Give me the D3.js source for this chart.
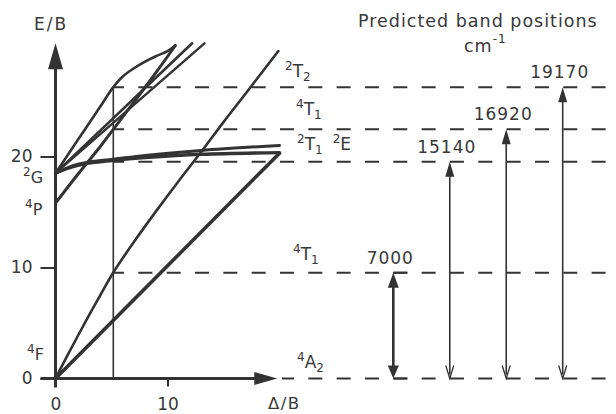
<!DOCTYPE html>
<html><head><meta charset="utf-8">
<script src="https://cdn.jsdelivr.net/npm/d3@7/dist/d3.min.js"></script>
<style>
body{margin:0;background:#fff}
text{font-family:"DejaVu Sans",sans-serif;fill:#383838}
</style>
</head><body>
<svg id="c" width="616" height="414"></svg>
<script>
// ---------- data (Δ/B , E/B) ----------
const xTickValues = [0, 10];
const yTickValues = [0, 10, 20];
const deltaFit = 5.16;                         // Δ/B of the vertical line
const curve4T2  = [[0,0],[20,20.3]];
const curve4T1F = [[0,0],[1,1.95],[2,3.85],[3,5.7],[4,7.5],[5.16,9.55],[7,12.3],[9,15.1],[11,17.8],[13,20.4],[15,23.1],[17,25.7],[19.9,29.5]];
const curve4T1P = [[0,15.8],[2,18.4],[4,20.9],[5.16,22.45],[7,24.9],[9,27.6],[10.7,30.0]];
const curve2T2a = [[0,18.5],[12.2,30.2]];
const curve2T2b = [[0,18.5],[13.3,30.2]];
const curve2A1  = [[0,18.5],[2,21.5],[4,24.5],[5.16,26.25],[6,27.2],[7,27.95],[8,28.55],[9,29.05],[10,29.5],[10.7,30.0]];
const curve2E   = [[0,18.5],[1,18.9],[2,19.2],[3,19.4],[5.16,19.65],[8,19.9],[13,20.2],[20,20.35]];
const curve2T1  = [[0,18.5],[1,18.95],[2,19.3],[3,19.5],[5.16,19.75],[8,20.1],[13,20.55],[20,21.0]];
const groundLevel = 0;
const bandLevels = [9.53, 19.53, 22.45, 26.23];          // E/B of the dashed levels
const bandValues = [7000, 15140, 16920, 19170];           // cm-1
const stateLabels = [                                     // [sup, main, sub, level]
  ["2","T","2",26.23],["4","T","1",22.45],["2","T","1",19.53],["4","T","1",9.53],["4","A","2",0]
];
const termLabels = [["2","G",18.5],["4","P",15.8],["4","F",0]];

// ---------- scales ----------
const svg = d3.select("#c");
const x = d3.scaleLinear().domain([0,10]).range([55.5,167.5]);
const y = d3.scaleLinear().domain([0,10]).range([378.5,267.5]);
const xBand = d3.scalePoint().domain(bandValues).range([393.3,562.7]);
const ink = "#333";

function head(g, tx, ty, dir, L, W, filled){ // dir: 'up','down','right'
  let p;
  if(dir==="up")    p=[[tx,ty],[tx-W,ty+L],[tx+W,ty+L]];
  if(dir==="down")  p=[[tx,ty],[tx-W,ty-L],[tx+W,ty-L]];
  if(dir==="right") p=[[tx,ty],[tx-L,ty-W],[tx-L,ty+W]];
  if(filled) g.append("path").attr("d","M"+p.join("L")+"Z").attr("fill",ink);
  else g.append("path").attr("d","M"+p[1]+"L"+p[0]+"L"+p[2]).attr("fill","none").attr("stroke",ink).attr("stroke-width",1.3);
}

// ---------- dashed levels ----------
const P = 28.33, phase = 393.3;
function dashed(x0, lev){
  const off = (((x0 - phase) % P) + P) % P;
  svg.append("line").attr("x1",x0).attr("x2",616).attr("y1",y(lev)).attr("y2",y(lev))
    .attr("stroke",ink).attr("stroke-width",2).attr("stroke-dasharray","14,14.33")
    .attr("stroke-dashoffset",off);
}
bandLevels.forEach(l=>dashed(x(deltaFit), l));
dashed(282, groundLevel);

// ---------- vertical line ----------
svg.append("line").attr("x1",x(deltaFit)).attr("x2",x(deltaFit))
  .attr("y1",y(0)).attr("y2",y(bandLevels[3])).attr("stroke",ink).attr("stroke-width",1.6);

// ---------- curves ----------
const line = d3.line().x(d=>x(d[0])).y(d=>y(d[1])).curve(d3.curveCatmullRom.alpha(0.5));
[[curve4T2,3.6],[curve4T1F,2.6],[curve4T1P,3],[curve2T2a,2.6],[curve2T2b,2.4],[curve2A1,2.6],[curve2E,3.4],[curve2T1,3]]
 .forEach(([c,w])=>svg.append("path").attr("d",line(c)).attr("fill","none").attr("stroke",ink)
   .attr("stroke-width",w).attr("stroke-linecap","round"));

// ---------- axes ----------
const ax = svg.append("g");
const yTop = 30.2, xEnd = 19.8;
ax.append("line").attr("x1",x(0)).attr("x2",x(0)).attr("y1",y(0)+9).attr("y2",y(yTop)+20)
  .attr("stroke",ink).attr("stroke-width",3);
head(ax, x(0), y(yTop), "up", 26, 7.5, true);
ax.append("line").attr("x1",x(0)-15).attr("x2",x(xEnd)-18).attr("y1",y(0)).attr("y2",y(0))
  .attr("stroke",ink).attr("stroke-width",3);
head(ax, x(xEnd), y(0), "right", 23, 6.5, true);

const gy = svg.append("g").attr("transform",`translate(${x(0)},0)`)
  .call(d3.axisLeft(y).tickValues(yTickValues).tickSize(15).tickPadding(8));
gy.select(".domain").remove();
gy.selectAll(".tick line").attr("stroke",ink).attr("stroke-width",2);
gy.selectAll(".tick text").attr("font-size",17).attr("fill","#383838").attr("font-family","DejaVu Sans");
const gx = svg.append("g").attr("transform",`translate(0,${y(0)})`)
  .call(d3.axisBottom(x).tickValues(xTickValues).tickSize(8).tickPadding(11));
gx.select(".domain").remove();
gx.selectAll(".tick line").attr("stroke",ink).attr("stroke-width",2);
gx.selectAll(".tick text").attr("font-size",17).attr("fill","#383838").attr("font-family","DejaVu Sans");

svg.append("text").attr("x",34).attr("y",30).attr("font-size",17).attr("letter-spacing",2).text("E/B");
svg.append("text").attr("x",268).attr("y",409).attr("font-size",16.5).attr("letter-spacing",1.5).text("Δ/B");

// ---------- term labels (left) ----------
function term(t, xx, base){
  const tx = svg.append("text").attr("x",xx).attr("y",base).attr("font-size",16);
  tx.append("tspan").attr("font-size",12).attr("dy",-7).text(t[0]);
  tx.append("tspan").attr("dy",7).text(t[1]);
}
const termX=[23,25,27];
termLabels.forEach((t,i)=>term(t, termX[i], [183,215,360][i]));

// ---------- state labels (right) ----------
const stX=[285,296,297,293,297], stUp=[10,14,12,13,11];
stateLabels.forEach((s,i)=>{
  const tx = svg.append("text").attr("x",stX[i]).attr("y",y(s[3])-stUp[i]).attr("font-size",17);
  tx.append("tspan").attr("font-size",12).attr("dy",-7).text(s[0]);
  tx.append("tspan").attr("dy",7).text(s[1]);
  tx.append("tspan").attr("font-size",12).attr("dy",4).text(s[2]);
  if(i===2){
    tx.append("tspan").attr("font-size",12).attr("dy",-11).attr("dx",10).text("2");
    tx.append("tspan").attr("dy",7).text("E");
  }
});

// ---------- band arrows ----------
bandValues.forEach((v,i)=>{
  const xx = xBand(v), yt = y(bandLevels[i]), yb = y(groundLevel);
  const g = svg.append("g");
  const first = i===0;
  g.append("line").attr("x1",xx).attr("x2",xx).attr("y1",yt+6).attr("y2",yb-4)
    .attr("stroke",ink).attr("stroke-width",first?2.6:1.6);
  head(g, xx, yt, "up", 15, first?5.5:4.5, true);
  head(g, xx, yb, "down", 13, first?5.5:4, first);
  if(first){
    g.append("line").attr("x1",xx).attr("x2",xx+14).attr("y1",yt).attr("y2",yt).attr("stroke",ink).attr("stroke-width",2);
    g.append("line").attr("x1",xx).attr("x2",xx+14).attr("y1",yb).attr("y2",yb).attr("stroke",ink).attr("stroke-width",2);
  }
  svg.append("text").attr("x",xx-3).attr("y",yt-9).attr("text-anchor","middle")
    .attr("font-size",17).attr("letter-spacing",1).text(v);
});

// ---------- header ----------
svg.append("text").attr("x",358).attr("y",27).attr("font-size",17.5).attr("letter-spacing",1).text("Predicted band positions");
const cm = svg.append("text").attr("x",464).attr("y",52).attr("font-size",17.5).attr("letter-spacing",1);
cm.append("tspan").text("cm");
cm.append("tspan").attr("font-size",12).attr("dy",-9).text("-1");
</script>
</body></html>
